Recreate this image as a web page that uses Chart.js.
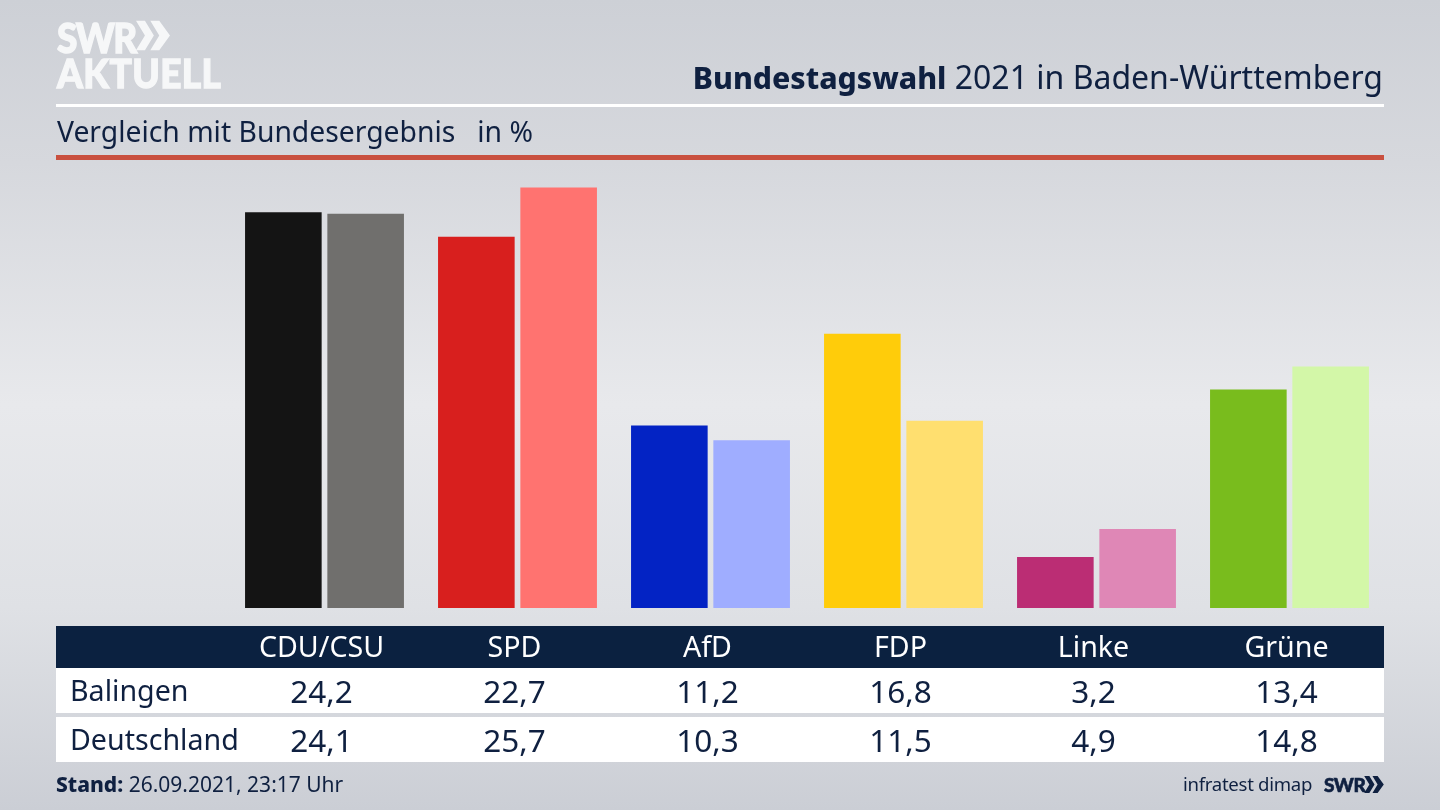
<!DOCTYPE html>
<html lang="de"><head><meta charset="utf-8">
<script src="https://cdn.jsdelivr.net/npm/chart.js@4"></script>
<style>
html,body{margin:0;padding:0;width:1440px;height:810px;overflow:hidden}
body{position:relative;background:linear-gradient(180deg,#cdd0d6 0%,#d6d8dd 20%,#e8e9ec 50%,#dfe1e5 75%,#cbced5 100%);font-family:"Noto Sans",sans-serif;color:#0f2040}
canvas{position:absolute;left:0;top:0}
.a{position:absolute;white-space:nowrap;line-height:1}
.c{transform:translateX(-50%)}
.r{position:absolute;left:56px;width:1328px}
.logo{font:900 37px/1 Lato,sans-serif;color:#f6f7f8;-webkit-text-stroke:1.2px #f6f7f8;transform-origin:0 0}
</style></head><body>
<canvas id="c" width="1440" height="810"></canvas>
<div class="a logo" style="left:57px;top:15px;letter-spacing:-1.5px;transform:scaleY(1.15)">SWR</div>
<svg class="a" style="left:136px;top:19px" width="34" height="33" viewBox="0 0 38 33"><path fill="#f6f7f8" d="M0 0h10l10 16.500-10 16.500h-10l10-16.500zM16 0h10l12 16.500-12 16.500h-10l10-16.500z"/></svg>
<div class="a logo" style="left:57px;top:52px;letter-spacing:.4px;transform:scaleY(1.08)">AKTUELL</div>
<div class="a" id="title" style="right:57px;top:61px;font-size:32px"><b style="font-size:30.200px;font-weight:800">Bundestagswahl</b> 2021 in Baden-Württemberg</div>
<div class="r" style="top:104px;height:3px;background:#fff"></div>
<div class="a" id="sub" style="left:57px;top:117px;font-size:28.300px">Vergleich mit Bundesergebnis&nbsp;&nbsp; in %</div>
<div class="r" style="top:155px;height:5px;background:#c9503f"></div>
<div class="r" style="top:626px;height:42px;background:#0b2140"></div>
<div class="r" style="top:668px;height:45px;background:#fff"></div>
<div class="r" style="top:717px;height:45px;background:#fff"></div>
<div id="tbl"></div>
<div class="a" style="left:56px;top:774px;font-size:21px"><b style="font-weight:800">Stand:</b> 26.09.2021, 23:17 Uhr</div>
<div class="a" style="left:1183px;top:775px;font-size:18.600px;letter-spacing:-.3px">infratest dimap</div>
<div class="a" style="left:1324px;top:775px;font:900 19px/1 Lato,sans-serif;color:#0f2040;-webkit-text-stroke:.6px #0f2040;letter-spacing:-.5px">SWR</div>
<svg class="a" style="left:1364px;top:776px" width="20" height="17" viewBox="0 0 38 33"><path fill="#0f2040" d="M0 0h10l10 16.500-10 16.500h-10l10-16.500zM16 0h10l12 16.500-12 16.500h-10l10-16.500z"/></svg>
<script>
const categories = ["CDU/CSU","SPD","AfD","FDP","Linke","Grüne"];
const balingen = [24.2,22.7,11.2,16.8,3.2,13.4];
const deutschland = [24.1,25.7,10.3,11.5,4.9,14.8];
const balingenLabels = ["24,2","22,7","11,2","16,8","3,2","13,4"];
const deutschlandLabels = ["24,1","25,7","10,3","11,5","4,9","14,8"];
const balingenColors = ["#141414","#d81f1e","#0323c4","#ffcc0a","#bb2d74","#79bc1d"];
const deutschlandColors = ["#706f6d","#ff7370","#9fadff","#ffdf6f","#df87b6","#d3f7a8"];

const chart = new Chart(document.getElementById("c"), {
  type: "bar",
  data: { labels: categories, datasets: [
    { label: "Balingen", data: balingen, backgroundColor: balingenColors },
    { label: "Deutschland", data: deutschland, backgroundColor: deutschlandColors }
  ]},
  options: {
    responsive: false, animation: false, devicePixelRatio: 1,
    layout: { padding: { left: 228, right: 54, top: 182.6, bottom: 202 } },
    plugins: { legend: { display: false }, tooltip: { enabled: false }, title: { display: false } },
    datasets: { bar: { categoryPercentage: 164.6/193, barPercentage: 76.6/82.3 } },
    scales: {
      x: { display: false },
      y: { display: false, min: 0.09, max: 26 }
    }
  }
});

const tbl = document.getElementById("tbl");
function put(text, left, top, size, color, center) {
  const d = document.createElement("div");
  d.className = "a" + (center ? " c" : "");
  d.textContent = text;
  d.style.cssText = `left:${left}px;top:${top}px;font-size:${size}px;color:${color}`;
  tbl.appendChild(d);
}
put("Balingen", 70, 676, 28.6, "#0f2040", false);
put("Deutschland", 70, 725, 28.6, "#0f2040", false);
categories.forEach((c, i) => {
  const x = chart.scales.x.getPixelForValue(i) - 3;
  put(c, x, 632, 28.6, "#fff", true);
  put(balingenLabels[i], x, 675, 31.5, "#0f2040", true);
  put(deutschlandLabels[i], x, 724, 31.5, "#0f2040", true);
});
</script>
</body></html>
